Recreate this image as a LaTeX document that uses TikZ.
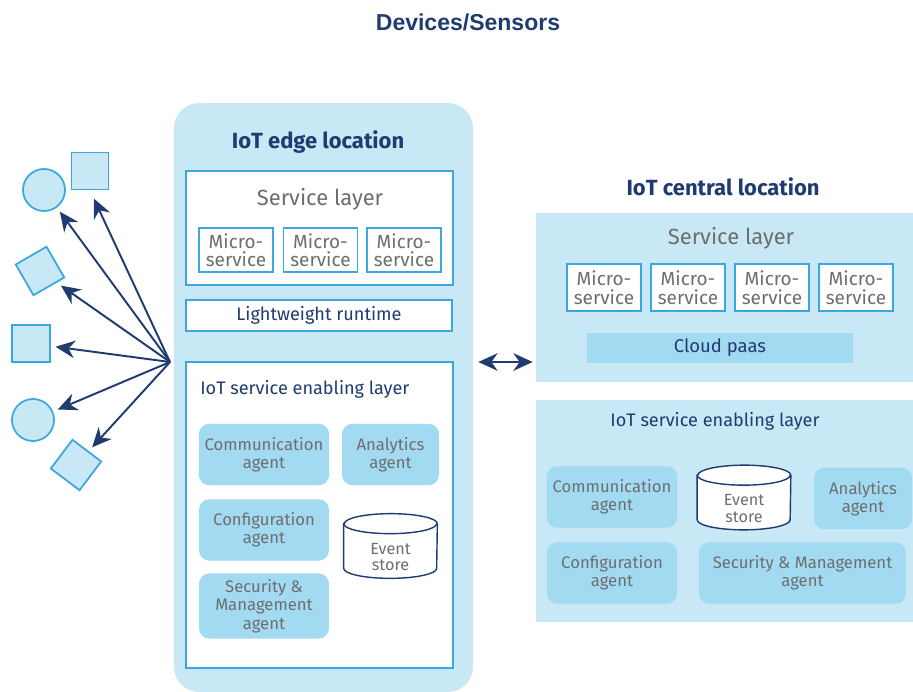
\documentclass[tikz,border=0pt]{standalone}
\usepackage{fontspec}
\setmainfont{Fira Sans}
\newfontfamily\titlefont{Liberation Sans}
\usetikzlibrary{arrows.meta,calc}

\definecolor{navy}{HTML}{1F3B70}
\definecolor{zonefill}{HTML}{C8E8F5}
\definecolor{agentfill}{HTML}{A2DAF2}
\definecolor{lineblue}{HTML}{3AA8DF}
\definecolor{greytext}{HTML}{6E6E6E}

\begin{document}
\begin{tikzpicture}[x=0.02cm, y=-0.02cm,
	zone/.style = {fill=zonefill, inner sep=0pt},
	layer/.style = {draw=lineblue, line width=1.1pt, fill=white, inner sep=0pt},
	micro/.style = {layer, align=center, text=greytext,
		minimum width=1.48cm, minimum height=0.88cm,
		font=\fontsize{10.8}{10.5}\selectfont},
	agent/.style = {fill=agentfill, rounded corners=6pt, align=center,
		text=greytext, minimum width=2.6cm, minimum height=1.23cm,
		font=\fontsize{9.5}{10.5}\selectfont},
	storebox/.style = {inner sep=0pt, minimum width=1.86cm, minimum height=1.28cm},
	cyl/.style = {draw=navy, line width=0.8pt, fill=white},
	storetext/.style = {align=center, text=greytext, font=\fontsize{9.2}{9.5}\selectfont},
	device/.style = {draw=lineblue, fill=zonefill, line width=1pt, inner sep=0pt},
	heading/.style = {text=navy, font=\fontsize{12.5}{13}\selectfont\bfseries},
	link/.style = {draw=navy, line width=1.1pt,
		-{Stealth[length=11pt, width=10pt]}, shorten >=0.1cm}]

	\useasboundingbox (0,0) rectangle (913,692);

	\node (title) at (468,22) [text=navy, font=\titlefont\fontsize{13.1}{14}\selectfont\bfseries] {Devices/Sensors};

	% edge location
	\node (edge) at (323.5,397.5) [zone, rounded corners=0.5cm,
		minimum width=5.98cm, minimum height=11.78cm] {};
	\node (edgehead) at (318,142) [heading] {IoT edge location};

	\node (esvc) at (319.5,228) [layer, minimum width=5.34cm, minimum height=2.28cm] {};
	\node (esvctext) at (320,199) [text=greytext, font=\fontsize{12.5}{12}\selectfont] {Service layer};
	\node (em1) at (236,250) [micro] {Micro-\\service};
	\node (em2) at (320.5,250) [micro] {Micro-\\service};
	\node (em3) at (404,250) [micro] {Micro-\\service};

	\node (runtime) at (319,315.5) [layer, minimum width=5.32cm, minimum height=0.62cm,
		text=navy, font=\fontsize{10.3}{11}\selectfont] {Lightweight runtime};

	\node (eenable) at (319.5,515) [layer, minimum width=5.34cm, minimum height=6.12cm] {};
	\node (eenabletext) at (200,389) [anchor=west, inner sep=0pt, text=navy,
		font=\fontsize{10.3}{10}\selectfont] {IoT service enabling layer};
	\node (ecomm) at (264,454.5) [agent] {Communication\\agent};
	\node (eana) at (390.5,454.5) [agent, minimum width=1.94cm] {Analytics\\agent};
	\node (econf) at (264,530) [agent] {Configuration\\agent};
	\node (esec) at (264,606) [agent] {Security \&\\Management\\agent};
	\node (estore) at (390.5,546) [storebox] {};

	% central location
	\node (centralhead) at (723,187) [heading] {IoT central location};
	\node (central) at (724.5,297.5) [zone, minimum width=7.54cm, minimum height=3.38cm] {};
	\node (csvctext) at (731,238) [text=greytext, font=\fontsize{12.5}{12}\selectfont] {Service layer};
	\node (cm1) at (604,287.5) [micro, minimum height=0.94cm] {Micro-\\service};
	\node (cm2) at (688,287.5) [micro, minimum height=0.94cm] {Micro-\\service};
	\node (cm3) at (772,287.5) [micro, minimum height=0.94cm] {Micro-\\service};
	\node (cm4) at (856,287.5) [micro, minimum height=0.94cm] {Micro-\\service};
	\node (paas) at (720,348) [fill=agentfill, minimum width=5.32cm, minimum height=0.6cm,
		text=navy, font=\fontsize{10.5}{11}\selectfont] {Cloud paas};

	\node (cenable) at (724.5,511) [zone, minimum width=7.54cm, minimum height=4.44cm] {};
	\node (cenabletext) at (715,421) [text=navy, font=\fontsize{10.3}{10}\selectfont] {IoT service enabling layer};
	\node (ccomm) at (612,497) [agent] {Communication\\agent};
	\node (cstore) at (744,497.5) [storebox] {};
	\node (cana) at (863,498.5) [agent, minimum width=1.96cm] {Analytics\\agent};
	\node (cconf) at (612,573) [agent] {Configuration\\agent};
	\node (csec) at (802.5,573) [agent, minimum width=4.14cm] {Security \& Management\\agent};

	% event store cylinders
	\foreach \s in {estore,cstore} {
		\filldraw [cyl] ($(\s.north west)+(0,10)$) -- ($(\s.south west)+(0,-10)$)
			arc [start angle=180, end angle=0, x radius=46.5, y radius=10]
			-- ($(\s.north east)+(0,10)$)
			arc [start angle=0, end angle=-180, x radius=46.5, y radius=10] -- cycle;
		\draw [cyl, fill=none] ($(\s.north west)+(0,10)$)
			arc [start angle=180, end angle=0, x radius=46.5, y radius=10];
	}
	\node (estoretext) at ([yshift=-0.22cm]estore.center) [storetext] {Event\\store};
	\node (cstoretext) at ([yshift=-0.22cm]cstore.center) [storetext] {Event\\store};

	% devices
	\node (dev1) at (44,190) [device, circle, minimum size=0.84cm] {};
	\node (dev2) at (90,171) [device, minimum size=0.74cm] {};
	\node (dev3) at (40,271) [device, minimum size=0.71cm, rotate=30] {};
	\node (dev4) at (31,343.5) [device, minimum size=0.75cm] {};
	\node (dev5) at (33,420) [device, circle, minimum size=0.84cm] {};
	\node (dev6) at (76,465) [device, minimum size=0.72cm, rotate=-37] {};

	\coordinate (hub) at (170,362);
	\draw [link, shorten >=0.18cm] (hub) -- (dev2.south);
	\foreach \d in {dev1,dev3,dev4,dev5,dev6}
		\draw [link] (hub) -- (\d);

	\draw [link, {Stealth[length=11pt, width=10pt]}-{Stealth[length=11pt, width=10pt]},
		shorten <=0.1cm, shorten >=0.06cm] (edge.east |- hub) -- (central.west |- hub);

\end{tikzpicture}
\end{document}
